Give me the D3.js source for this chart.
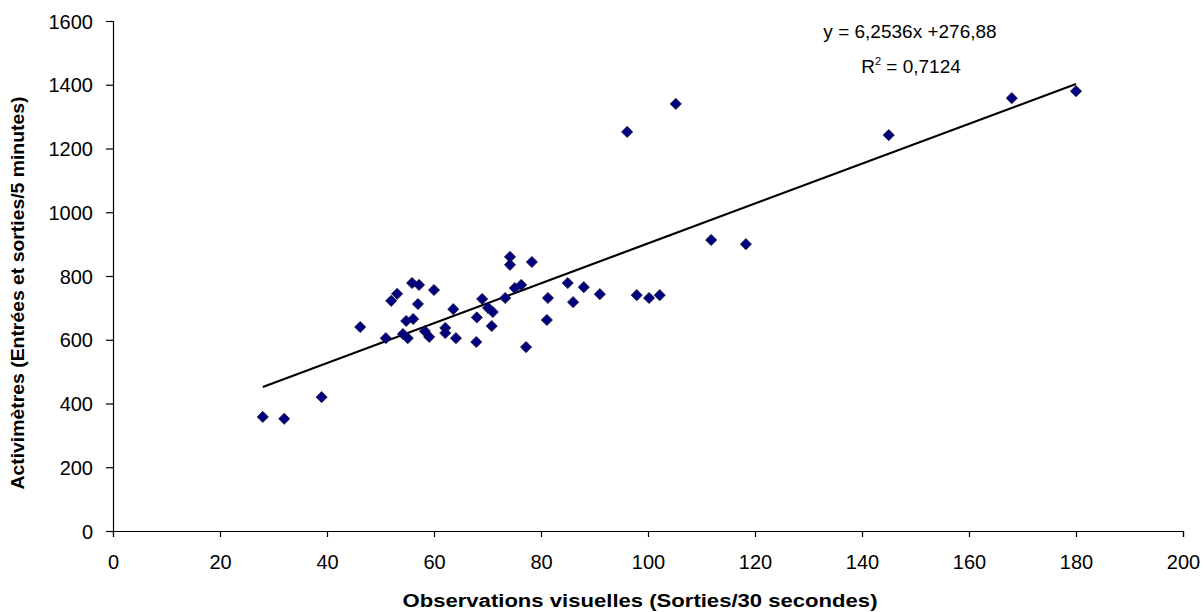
<!DOCTYPE html>
<html>
<head>
<meta charset="utf-8">
<script src="https://cdn.jsdelivr.net/npm/d3@7"></script>
<style>
  body { margin: 0; background: #fff; }
  text { font-family: "Liberation Sans", Arial, sans-serif; fill: #000; }
</style>
</head>
<body>
<div id="chart"></div>
<script>
// Observations visuelles (sorties / 30 s) vs activimètres (entrées et sorties / 5 min)
const obsVisuelles = [28, 32, 39, 46.2, 51, 52, 53.1, 54.8, 56.1, 54.2, 55.1, 55.9, 57.2, 57, 60,
    58.3, 59.1, 62.1, 62.1, 63.6, 64.1, 68, 67.9, 69, 70.1, 71, 70.8, 73.3, 74.2, 74.2,
    75.1, 76.3, 78.3, 77.2, 81.3, 81.1, 85, 86, 88, 91, 96.1, 97.9, 100.2, 102.2, 105.2,
    111.8, 118.3, 145, 168, 180];
const activimetres = [358, 352, 420, 640, 605, 722, 744, 659, 665, 618, 605, 778, 772, 712, 756,
    627, 609, 637, 621, 696, 605, 670, 593, 728, 700, 687, 643, 731, 860, 835,
    762, 772, 844, 577, 731, 662, 778, 718, 765, 743, 1252, 740, 731, 740, 1340,
    913, 900, 1242, 1358, 1380];

const xTicks = [0, 20, 40, 60, 80, 100, 120, 140, 160, 180, 200];
const yTicks = [0, 200, 400, 600, 800, 1000, 1200, 1400, 1600];

// courbe de tendance (affichée sur le graphique)
const SLOPE = 6.2536;
const INTERCEPT = 276.88;
const equationLabel = "y = 6,2536x +276,88";
const r2Label = "0,7124";

const xTitle = "Observations visuelles (Sorties/30 secondes)";
const yTitle = "Activimètres (Entrées et sorties/5 minutes)";

const width = 1203, height = 612;
const margin = { top: 21, right: 20, bottom: 81, left: 113 };

const x = d3.scaleLinear().domain([0, 200]).range([margin.left, 1183]);
const y = d3.scaleLinear().domain([0, 1600]).range([height - margin.bottom, margin.top]);

function drawAxes(svg) {
    const xAxis = svg.append("g")
        .attr("transform", `translate(0,${y(0)})`)
        .call(d3.axisBottom(x).tickValues(xTicks).tickSize(6).tickPadding(18).tickFormat(d3.format("d")));
    const yAxis = svg.append("g")
        .attr("transform", `translate(${x(0)},0)`)
        .call(d3.axisLeft(y).tickValues(yTicks).tickSize(7).tickPadding(13).tickFormat(d3.format("d")));

    [xAxis, yAxis].forEach(a => {
        a.select(".domain").attr("stroke", "#000").attr("stroke-width", 1.2);
        a.selectAll(".tick line").attr("stroke", "#000").attr("stroke-width", 1.2);
        a.selectAll(".tick text")
            .attr("font-size", 20)
            .attr("font-family", "Liberation Sans, Arial, sans-serif")
            .attr("fill", "#1a1a1a");
    });
    yAxis.selectAll(".tick text").attr("dy", "0.36em");

    svg.append("text")
        .attr("x", 640)
        .attr("y", 607)
        .attr("text-anchor", "middle")
        .attr("font-size", 18)
        .attr("font-weight", 700)
        .attr("textLength", 475)
        .attr("lengthAdjust", "spacingAndGlyphs")
        .text(xTitle);

    svg.append("text")
        .attr("transform", "translate(24,293) rotate(-90)")
        .attr("text-anchor", "middle")
        .attr("font-size", 18)
        .attr("font-weight", 700)
        .attr("textLength", 393)
        .attr("lengthAdjust", "spacingAndGlyphs")
        .text(yTitle);
}

function drawTrend(svg) {
    const x0 = d3.min(obsVisuelles), x1 = d3.max(obsVisuelles);
    const line = d3.line().x(d => x(d)).y(d => y(SLOPE * d + INTERCEPT));
    svg.append("path")
        .datum([x0, x1])
        .attr("d", line)
        .attr("fill", "none")
        .attr("stroke", "#000")
        .attr("stroke-width", 2.2);

    svg.append("text")
        .attr("x", 910)
        .attr("y", 38)
        .attr("text-anchor", "middle")
        .attr("font-size", 19)
        .text(equationLabel);

    const r2 = svg.append("text")
        .attr("x", 911)
        .attr("y", 73)
        .attr("text-anchor", "middle")
        .attr("font-size", 19);
    r2.append("tspan").text("R");
    r2.append("tspan").attr("font-size", 11).attr("dy", -8).text("2");
    r2.append("tspan").attr("dy", 8).text(" = " + r2Label);
}

function drawPoints(svg) {
    const diamond = d3.symbol().type(d3.symbolSquare).size(62);
    svg.append("g")
        .selectAll("path")
        .data(obsVisuelles.map((v, i) => [v, activimetres[i]]))
        .join("path")
        .attr("d", diamond)
        .attr("transform", d => `translate(${x(d[0])},${y(d[1])}) rotate(45)`)
        .attr("fill", "#000080")
        .attr("stroke", "#1a1a3a")
        .attr("stroke-width", 0.8);
}

const svg = d3.select("#chart").append("svg")
    .attr("width", width)
    .attr("height", height);

drawAxes(svg);
drawTrend(svg);
drawPoints(svg);
</script>
</body>
</html>
